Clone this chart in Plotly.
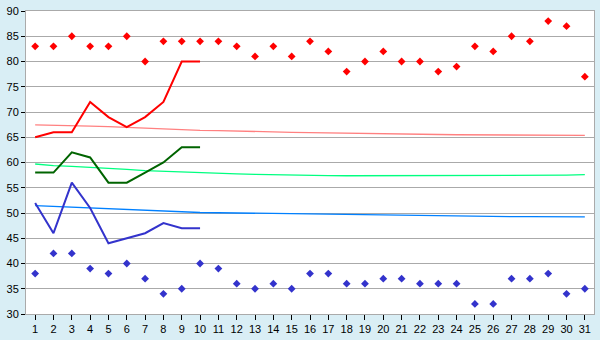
import plotly.graph_objects as go

days = list(range(1, 32))
daily_high = [83, 83, 85, 83, 83, 85, 80, 84, 84, 84, 84, 83, 81, 83, 81, 84, 82, 78, 80, 82,
              80, 80, 78, 79, 83, 82, 85, 84, 88, 87, 77]
daily_low = [38, 42, 42, 39, 38, 40, 37, 34, 35, 40, 39, 36, 35, 36, 35, 38, 38, 36, 36, 37,
             37, 36, 36, 36, 32, 32, 37, 37, 38, 34, 35]
line_days = list(range(1, 11))
red_line = [65, 66, 66, 72, 69, 67, 69, 72, 80, 80]
green_line = [58, 58, 62, 61, 56, 56, 58, 60, 63, 63]
blue_line = [52, 46, 56, 51, 44, 45, 46, 48, 47, 47]
normal_high = [67.46, 67.42, 67.3, 67.2, 67.1, 66.95, 66.7, 66.55, 66.4, 66.35, 66.3, 66.25, 66.15,
               66.05, 65.98, 65.9, 65.83, 65.76, 65.7, 65.65, 65.6, 65.57, 65.54, 65.5, 65.47,
               65.44, 65.42, 65.4, 65.38, 65.37, 65.36]
normal_mean = [59.7, 59.4, 59.25, 59.1, 58.85, 58.65, 58.4, 58.25, 58.1, 57.95, 57.85, 57.75, 57.65,
               57.55, 57.48, 57.42, 57.4, 57.38, 57.38, 57.38, 57.38, 57.38, 57.38, 57.38, 57.38,
               57.38, 57.38, 57.38, 57.4, 57.5, 57.58]
normal_low = [51.46, 51.3, 51.25, 51.1, 50.9, 50.75, 50.55, 50.4, 50.25, 50.1, 50.05, 50.0, 49.95,
              49.9, 49.85, 49.76, 49.7, 49.62, 49.56, 49.5, 49.45, 49.4, 49.36, 49.33, 49.3,
              49.29, 49.28, 49.27, 49.26, 49.25, 49.24]

fig = go.Figure()
fig.add_trace(go.Scatter(x=days, y=normal_high, mode="lines", line=dict(color="#FF8080", width=1.3)))
fig.add_trace(go.Scatter(x=days, y=normal_mean, mode="lines", line=dict(color="#00FF80", width=1.3)))
fig.add_trace(go.Scatter(x=days, y=normal_low, mode="lines", line=dict(color="#0080FF", width=1.3)))
fig.add_trace(go.Scatter(x=line_days, y=red_line, mode="lines", line=dict(color="#FF0000", width=2)))
fig.add_trace(go.Scatter(x=line_days, y=green_line, mode="lines", line=dict(color="#006400", width=2)))
fig.add_trace(go.Scatter(x=line_days, y=blue_line, mode="lines", line=dict(color="#3333CC", width=2)))
fig.add_trace(go.Scatter(x=days, y=daily_high, mode="markers",
                         marker=dict(symbol="diamond", size=6, color="#FF0000")))
fig.add_trace(go.Scatter(x=days, y=daily_low, mode="markers",
                         marker=dict(symbol="diamond", size=6, color="#3333CC")))

fig.update_layout(
    width=600, height=340,
    margin=dict(l=26, r=5, t=5, b=20),
    paper_bgcolor="#D9EEF5",
    plot_bgcolor="#FFFFFF",
    showlegend=False,
    font=dict(family="Liberation Sans, Arial, sans-serif", size=11, color="#000000"),
)
fig.update_xaxes(range=[0.5, 31.5], tickmode="array", tickvals=days, ticktext=[str(d) for d in days],
                 showgrid=False, zeroline=False, showline=True, linecolor="#AAAAAA", linewidth=1,
                 mirror=True, ticks="outside", ticklen=5, tickcolor="#000000", tickangle=0)
fig.update_yaxes(range=[30, 90], dtick=5, tick0=30, showgrid=True, gridcolor="#AAAAAA", gridwidth=1,
                 zeroline=False, showline=True, linecolor="#AAAAAA", linewidth=1, mirror=True,
                 ticks="outside", ticklen=4, tickcolor="#000000", ticklabeloverflow="allow")

fig.write_html("out.html")
